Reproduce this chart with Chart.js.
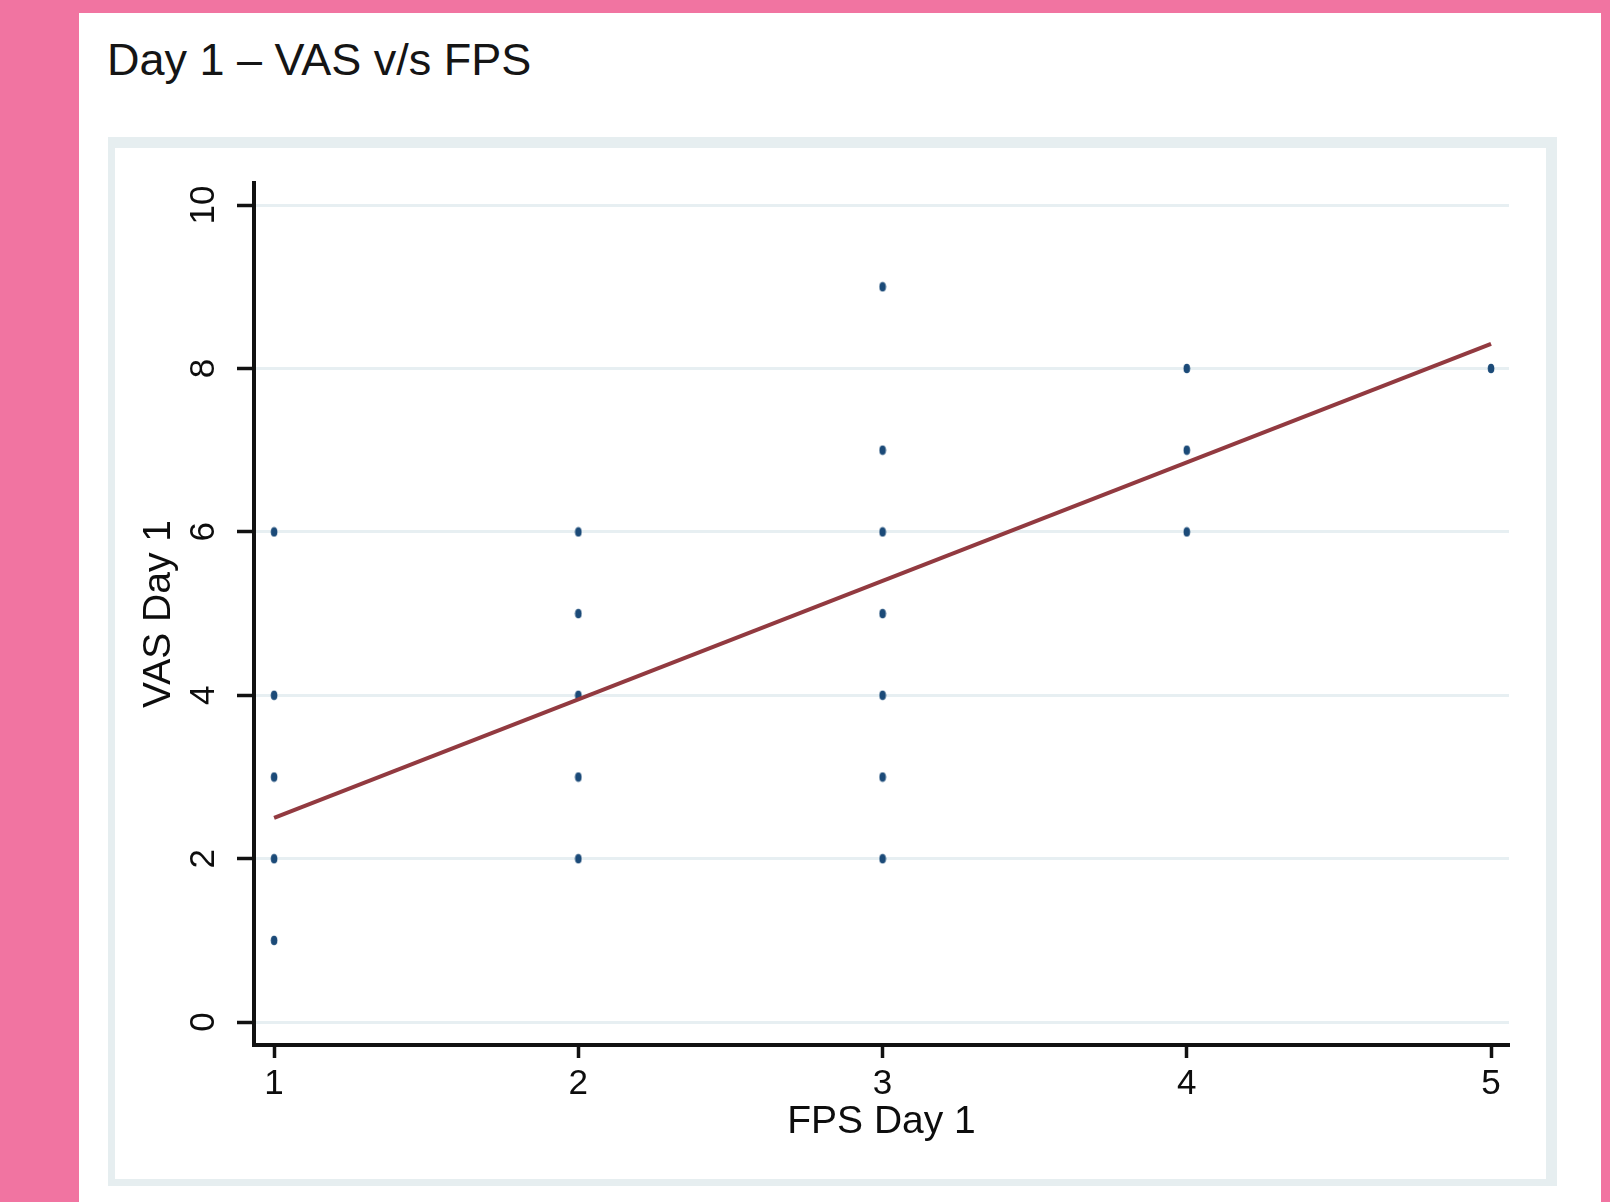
<!DOCTYPE html>
<html>
<head>
<meta charset="utf-8">
<script src="https://cdn.jsdelivr.net/npm/chart.js@4/dist/chart.umd.min.js"></script>
<style>
  html, body { margin: 0; padding: 0; }
  body { width: 1610px; height: 1202px; background: #f174a1; position: relative; overflow: hidden; font-family: "Liberation Sans", Arial, sans-serif; }
  #panel { position: absolute; left: 79px; top: 13px; width: 1522px; height: 1189px; background: #ffffff; }
  #title { position: absolute; left: 107px; top: 37px; font-size: 45px; line-height: 45px; color: #151515; white-space: nowrap; }
  #box { position: absolute; left: 108px; top: 137px; width: 1449px; height: 1049px; box-sizing: border-box; border-style: solid; border-color: #e6eef0; border-width: 11px 11px 7px 7px; }
  #c { position: absolute; left: 0; top: 0; }
</style>
</head>
<body>
<div id="panel"></div>
<div id="title">Day 1 – VAS v/s FPS</div>
<div id="box"></div>
<canvas id="c" width="1610" height="1202"></canvas>
<script>
// ---- data ----
const fpsDay1 = [1, 1, 1, 1, 1, 2, 2, 2, 2, 2, 3, 3, 3, 3, 3, 3, 3, 4, 4, 4, 5];
const vasDay1 = [6, 4, 3, 2, 1, 6, 5, 4, 3, 2, 9, 7, 6, 5, 4, 3, 2, 8, 7, 6, 8];
const fitX = [1, 5];
const fitY = [2.5, 8.3];
const xTicks = [1, 2, 3, 4, 5];
const yTicks = [0, 2, 4, 6, 8, 10];
const xTitle = 'FPS Day 1';
const yTitle = 'VAS Day 1';

// marker: small navy ellipse
const marker = document.createElement('canvas');
marker.width = 8; marker.height = 11;
(function () {
  const g = marker.getContext('2d');
  g.fillStyle = '#1b4a78';
  g.beginPath();
  g.ellipse(4, 5.5, 3.3, 4.8, 0, 0, Math.PI * 2);
  g.fill();
})();

const font = { family: '"Liberation Sans", Arial, sans-serif' };

new Chart(document.getElementById('c'), {
  type: 'scatter',
  data: {
    datasets: [
      {
        type: 'line',
        order: 0,
        data: fitX.map((x, i) => ({ x: x, y: fitY[i] })),
        borderColor: '#923a40',
        borderWidth: 4,
        pointRadius: 0,
        fill: false,
        tension: 0
      },
      {
        type: 'scatter',
        order: 1,
        data: fpsDay1.map((x, i) => ({ x: x, y: vasDay1[i] })),
        pointStyle: marker,
        pointRadius: 5
      }
    ]
  },
  options: {
    responsive: false,
    animation: false,
    devicePixelRatio: 1,
    layout: { padding: { left: 100, top: 183, right: 101, bottom: 42 } },
    plugins: { legend: { display: false }, tooltip: { enabled: false }, title: { display: false } },
    scales: {
      x: {
        type: 'linear',
        min: 0.934,
        max: 5.059,
        afterBuildTicks: s => { s.ticks = xTicks.map(v => ({ value: v })); },
        afterFit: s => { s.height = 115; },
        border: { display: true, color: '#111', width: 4 },
        grid: { display: true, drawOnChartArea: false, drawTicks: true, tickLength: 13, tickWidth: 3.5, tickColor: '#111' },
        ticks: { color: '#0d0d0d', font: { ...font, size: 35 }, padding: 5, maxRotation: 0, minRotation: 0 },
        title: { display: true, text: xTitle, color: '#0d0d0d', font: { ...font, size: 39 }, padding: { top: 0, bottom: 14 } }
      },
      y: {
        type: 'linear',
        min: -0.28,
        max: 10.27,
        afterBuildTicks: s => { s.ticks = yTicks.map(v => ({ value: v })); },
        afterFit: s => { s.width = 154; },
        border: { display: true, color: '#111', width: 4 },
        grid: { display: true, drawOnChartArea: true, color: '#e7eff2', lineWidth: 3, drawTicks: true, tickLength: 17, tickWidth: 3.5, tickColor: '#111' },
        ticks: { color: '#0d0d0d', font: { ...font, size: 35 }, padding: 13, minRotation: 90, maxRotation: 90, crossAlign: 'center' },
        title: { display: true, text: yTitle, color: '#0d0d0d', font: { ...font, size: 39 }, padding: { top: 36, bottom: 0 } }
      }
    }
  }
});
</script>
</body>
</html>
